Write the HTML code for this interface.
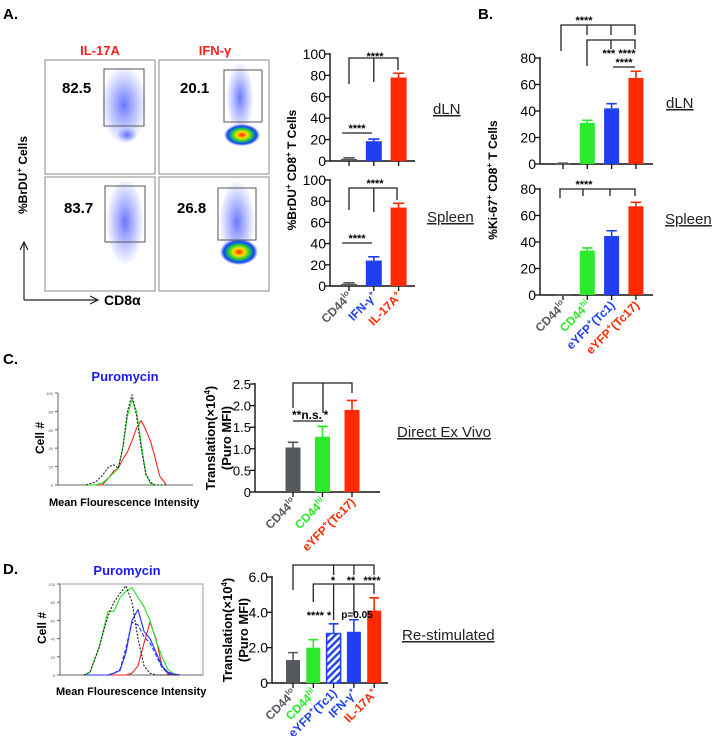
<!DOCTYPE html>
<html><head><meta charset="utf-8"><style>
body{margin:0;background:#fff}
svg{display:block;font-family:"Liberation Sans",Arial,sans-serif}
.b{font-weight:bold}
</style></head><body>
<svg id="fig" width="713" height="736" viewBox="0 0 713 736" xmlns="http://www.w3.org/2000/svg">
<defs>
<pattern id="hatch" patternUnits="userSpaceOnUse" width="5" height="5" patternTransform="rotate(45)">
<rect width="5" height="5" fill="#fff"/><rect width="2.4" height="5" fill="#1f3ff0"/></pattern>
<radialGradient id="hot"><stop offset="0" stop-color="#ff2000"/><stop offset="0.3" stop-color="#ffe000"/><stop offset="0.55" stop-color="#20d040"/><stop offset="0.8" stop-color="#1040ff"/><stop offset="1" stop-color="#1040ff" stop-opacity="0"/></radialGradient>
<radialGradient id="cloud"><stop offset="0" stop-color="#2a3cff" stop-opacity="0.7"/><stop offset="1" stop-color="#4a5cff" stop-opacity="0.05"/></radialGradient>
</defs>
<text x="3" y="19" font-size="15" class="b">A.</text>
<text x="478" y="19" font-size="15" class="b">B.</text>
<text x="3" y="364" font-size="15" class="b">C.</text>
<text x="3" y="574" font-size="15" class="b">D.</text>

<g>
<text x="100" y="55" font-size="13" class="b" fill="#ff2020" text-anchor="middle">IL-17A</text>
<text x="215" y="55" font-size="13" class="b" fill="#ff2020" text-anchor="middle">IFN-γ</text>
<g>
<rect x="45" y="60" width="110" height="114" fill="#fff" stroke="#888"/>
<ellipse cx="124" cy="105" rx="22" ry="38" fill="url(#cloud)"/>
<ellipse cx="127" cy="135" rx="10" ry="7" fill="url(#cloud)"/>
<rect x="104" y="69" width="40" height="57" fill="none" stroke="#555"/>
<text x="62" y="93" font-size="15" class="b">82.5</text></g>
<g>
<rect x="159" y="60" width="110" height="114" fill="#fff" stroke="#888"/>
<ellipse cx="240" cy="98" rx="13" ry="34" fill="url(#cloud)"/>
<ellipse cx="242" cy="135" rx="18" ry="11" fill="url(#hot)"/>
<rect x="224" y="70" width="38" height="52" fill="none" stroke="#555"/>
<text x="180" y="93" font-size="15" class="b">20.1</text></g>
<g>
<rect x="45" y="177" width="110" height="114" fill="#fff" stroke="#888"/>
<ellipse cx="125" cy="222" rx="18" ry="42" fill="url(#cloud)"/>
<rect x="105" y="186" width="40" height="56" fill="none" stroke="#555"/>
<text x="64" y="213" font-size="15" class="b">83.7</text></g>
<g>
<rect x="159" y="177" width="110" height="114" fill="#fff" stroke="#888"/>
<ellipse cx="237" cy="222" rx="17" ry="40" fill="url(#cloud)"/>
<ellipse cx="239" cy="252" rx="19" ry="13" fill="url(#hot)"/>
<rect x="218" y="188" width="38" height="52" fill="none" stroke="#555"/>
<text x="177" y="213" font-size="15" class="b">26.8</text></g>
<text transform="translate(27,175) rotate(-90)" font-size="12" class="b" text-anchor="middle">%BrDU<tspan font-size="8" dy="-5">+</tspan><tspan dy="5"> Cells</tspan></text>
<path d="M24 300 V242 M20 250 L24 242 L28 250 M24 300 H98 M90 296 L98 300 L90 304" fill="none" stroke="#222" stroke-width="1.2"/>
<text x="104" y="305" font-size="14" class="b">CD8α</text>
</g>

<g id="charts"></g>

<text transform="translate(296,170) rotate(-90)" font-size="12" class="b" text-anchor="middle">%BrDU<tspan font-size="8" dy="-5">+</tspan><tspan dy="5"> CD8</tspan><tspan font-size="8" dy="-5">+</tspan><tspan dy="5"> T Cells</tspan></text>
<text transform="translate(497,180) rotate(-90)" font-size="12" class="b" text-anchor="middle">%Ki-67<tspan font-size="8" dy="-5">+</tspan><tspan dy="5"> CD8</tspan><tspan font-size="8" dy="-5">+</tspan><tspan dy="5"> T Cells</tspan></text>
<text transform="translate(215,438) rotate(-90)" font-size="13" class="b" text-anchor="middle">Translation(×10<tspan font-size="8" dy="-5">4</tspan><tspan dy="5">)</tspan></text>
<text transform="translate(231,438) rotate(-90)" font-size="13" class="b" text-anchor="middle">(Puro MFI)</text>
<text transform="translate(232,630) rotate(-90)" font-size="13" class="b" text-anchor="middle">Translation(×10<tspan font-size="8" dy="-5">4</tspan><tspan dy="5">)</tspan></text>
<text transform="translate(248,630) rotate(-90)" font-size="13" class="b" text-anchor="middle">(Puro MFI)</text>

<g font-size="15" text-decoration="underline" fill="#222">
<text x="433" y="114">dLN</text>
<text x="427" y="222">Spleen</text>
<text x="666" y="108">dLN</text>
<text x="665" y="224">Spleen</text>
<text x="397" y="437">Direct Ex Vivo</text>
<text x="402" y="640">Re-stimulated</text>
</g>

<text x="125" y="381" font-size="13" class="b" fill="#1a1aff" text-anchor="middle">Puromycin</text>
<text x="127" y="575" font-size="13" class="b" fill="#1a1aff" text-anchor="middle">Puromycin</text>
<text transform="translate(44,438) rotate(-90)" font-size="12" class="b" text-anchor="middle">Cell #</text>
<text transform="translate(46,628) rotate(-90)" font-size="12" class="b" text-anchor="middle">Cell #</text>
<text x="49" y="506" font-size="11" class="b">Mean Flourescence Intensity</text>
<text x="56" y="695" font-size="11" class="b">Mean Flourescence Intensity</text>
<g id="hists"></g>
</svg>
<script>
const NS="http://www.w3.org/2000/svg";
function mk(tag,attrs,parent){const e=document.createElementNS(NS,tag);for(const k in attrs)e.setAttribute(k,attrs[k]);parent.appendChild(e);return e;}
const charts=document.getElementById('charts');
const COL={g:"#55595f",gr:"#2bea2b",b:"#1f3ff0",r:"#ff2a00",h:"url(#hatch)"};

const catsA=["CD44lo","IFN-γ+","IL-17A+"];
const colorsA=["g","b","r"];
const dlnA=[2,18.5,78];
const dlnAErr=[1,2,4];
const spleenA=[2,24,74];
const spleenAErr=[1,3.5,4];
const ticksA=[0,20,40,60,80,100];

const catsB=["CD44lo","CD44hi","eYFP+(Tc1)","eYFP+(Tc17)"];
const colorsB=["g","gr","b","r"];
const dlnB=[0.3,31,42,65];
const dlnBErr=[0.3,2,3.5,5];
const spleenB=[0,33.5,44.5,67];
const spleenBErr=[0,2,4,3];
const ticksB=[0,20,40,60,80];

const catsC=["CD44lo","CD44hi","eYFP+(Tc17)"];
const colorsC=["g","gr","r"];
const valsC=[1.03,1.28,1.9];
const errC=[0.12,0.24,0.22];
const ticksC=[0,0.5,1.0,1.5,2.0,2.5];
const tickLabelsC=["0","0.5","1.0","1.5","2.0","2.5"];

const catsD=["CD44lo","CD44hi","eYFP+(Tc1)","IFN-γ+","IL-17A+"];
const colorsD=["g","gr","h","b","r"];
const valsD=[1.3,2.0,2.8,2.9,4.1];
const errD=[0.42,0.45,0.55,0.68,0.72];
const ticksD=[0,2,4,6];
const tickLabelsD=["0","2.0","4.0","6.0"];

function barChart(o){
  const g=mk('g',{},charts);
  
  
  const y=v=>o.y0-(v/o.max)*(o.y0-o.yTop);
  const x=i=>o.c0+i*o.step;
  const fs=o.fs||14;
  mk('line',{x1:o.ax,y1:o.yTop-1,x2:o.ax,y2:o.y0,stroke:"#111","stroke-width":1.4},g);
  mk('line',{x1:o.ax,y1:o.y0,x2:o.end,y2:o.y0,stroke:"#111","stroke-width":1.4},g);
  o.ticks.forEach((t,i)=>{
    mk('line',{x1:o.ax-5,y1:y(t),x2:o.ax,y2:y(t),stroke:"#111","stroke-width":1.3},g);
    const tx=mk('text',{x:o.ax-4,y:y(t)+5,"font-size":fs,"text-anchor":"end"},g);
    tx.textContent=o.tl?o.tl[i]:String(t);
  });
  o.vals.forEach((v,i)=>{
    const cx=x(i), c=COL[o.colors[i]], sc=o.colors[i]==="h"?COL.b:c;
    mk('line',{x1:cx,y1:o.y0,x2:cx,y2:o.y0+5,stroke:"#111","stroke-width":1.3},g);
    const top=y(v+o.err[i]);
    const eb=mk('path',{d:`M${cx} ${y(v)} V${top} M${cx-o.bw*0.35} ${top} H${cx+o.bw*0.35}`,stroke:sc,"stroke-width":1.6,fill:"none"},g);
    
    
    const r=mk('rect',{x:cx-o.bw/2,y:y(v),width:o.bw,height:Math.max(o.y0-y(v),0.8),fill:c,stroke:sc,"stroke-width":o.colors[i]==="h"?1.5:0},g);
    
    
    if(o.labels){
      const lab=o.cats[i];
      const t=mk('text',{transform:`translate(${cx+4},${o.y0+11}) rotate(-45)`,"text-anchor":"end","font-size":12,"font-weight":"bold",fill:sc},g);
      
      
      const m=lab.match(/^(.*?)(lo|hi|\+)(.*)$/);
      if(m){t.appendChild(document.createTextNode(m[1]));const s=mk('tspan',{"font-size":8,dy:-5},t);s.textContent=m[2];const r2=mk('tspan',{dy:5},t);r2.textContent=m[3]||"\u200b";}
      else t.textContent=lab;
    }
  });
  return {g,x,y};
}
function sig(g,d,labels){
  mk('path',{d,stroke:"#222","stroke-width":1.3,fill:"none"},g);
  labels.forEach(l=>{const t=mk('text',{x:l[0],y:l[1],"font-size":l[3]||11,"font-weight":"bold","text-anchor":"middle"},g);t.textContent=l[2];});
}

let c=barChart({name:"a-dln",vals:dlnA,err:dlnAErr,colors:colorsA,cats:catsA,ticks:ticksA,max:100,ax:330,y0:161,yTop:54,c0:349,step:24.8,bw:16,end:415});
sig(c.g,"M349 84 V58 H398 V70 M373.8 58 V82 M342 133 H372",[[375,60,"****"],[357,132,"****"]]);
c=barChart({name:"a-spleen",vals:spleenA,err:spleenAErr,colors:colorsA,cats:catsA,ticks:ticksA,max:100,ax:330,y0:286,yTop:180,c0:349,step:24.8,bw:16,end:415,labels:true});
sig(c.g,"M349 210 V188 H397 V200 M373.8 188 V212 M342 243 H372",[[375,187,"****"],[357,242,"****"]]);
c=barChart({name:"b-dln",vals:dlnB,err:dlnBErr,colors:colorsB,cats:catsB,ticks:ticksB,max:80,ax:540,y0:164,yTop:58,c0:563,step:24.3,bw:15,end:653});
sig(c.g,"M561 51 V25 H635 V35 M587 25 V35 M611 25 V35 M587 66 V40 H635 V49 M611 40 V49 M613 67 H635",[[584,24,"****"],[619,57,"***  ****"],[624,66,"****"]]);
c=barChart({name:"b-spleen",vals:spleenB,err:spleenBErr,colors:colorsB,cats:catsB,ticks:ticksB,max:80,ax:540,y0:295,yTop:189,c0:563,step:24.3,bw:15,end:653,labels:true});
sig(c.g,"M560 198 V189 H635 V196 M583 189 V196 M610 189 V196",[[584,188,"****"]]);
c=barChart({name:"c",vals:valsC,err:errC,colors:colorsC,cats:catsC,ticks:ticksC,tl:tickLabelsC,fs:13,max:2.5,ax:255,y0:492,yTop:384,c0:293,step:29.5,bw:15,end:380,labels:true});
sig(c.g,"M293 408 V383 H352 V393 M323 383 V413 M293 421 H323",[[307,419,"**n.s.",12],[326,419,"*",12]]);
c=barChart({name:"d",vals:valsD,err:errD,colors:colorsD,cats:catsD,ticks:ticksD,tl:tickLabelsD,max:6,ax:272,y0:683,yTop:577,c0:293,step:20.3,bw:14,end:388,labels:true});
sig(c.g,"M293 590 V565 H374 V575 M333.6 565 V575 M353.9 565 V575 M313.3 602 V584 H374 V594 M333.6 584 V620 M353.9 584 V615",[[333,584,"*"],[351,584,"**"],[372,584,"****"],[319,619,"**** *"],[357,618,"p=0.05",10]]);

const hists=document.getElementById('hists');
const histCLogs=[3.0,3.2,3.35,3.5,3.6,3.7,3.8,3.9,4.0,4.1,4.2,4.3,4.4,4.5,4.6,4.75];
const histCBlack=[0,3,10,20,22,18,40,80,98,75,40,12,3,0,0,0];
const histCGreen=[0,0,2,8,13,18,40,75,93,80,45,12,2,0,0,0];
const histCRed=[0,0,0,8,15,18,28,36,48,62,70,60,48,30,10,0];
const histDLogs=[3.4,3.5,3.65,3.8,3.9,4.0,4.1,4.2,4.3,4.4,4.5,4.6,4.7,4.8,4.9,5.0];
const histDBlack=[0,3,30,65,80,90,98,80,40,10,2,0,0,0,0,0];
const histDGreen=[0,3,30,70,70,85,92,96,85,75,60,38,20,6,1,0];
const histDBlue=[0,0,0,0,2,5,25,60,72,48,40,25,10,3,1,0];
const histDBlueDash=[0,0,0,0,2,6,30,58,55,42,35,22,8,2,0,0];
const histDRed=[0,0,0,0,0,0,0,2,10,35,58,40,10,1,0,0];

function hist(o){
  const g=mk('g',{},hists);
  
  
  if(o.frame) mk('rect',{x:o.x0,y:o.yTop,width:o.x1-o.x0,height:o.y0-o.yTop,fill:"none",stroke:"#999","stroke-width":1},g);
  mk('path',{d:`M${o.x0} ${o.yTop} V${o.y0} H${o.x1}`,stroke:"#666",fill:"none","stroke-width":1},g);
  const X=l=>o.px4+(l-4)*o.dec, Y=v=>o.y0-v/100*(o.y0-o.yTop);
  [0,20,40,60,80,100].forEach(t=>{mk('line',{x1:o.x0-3,y1:Y(t),x2:o.x0,y2:Y(t),stroke:"#666"},g);const tx=mk('text',{x:o.x0-5,y:Y(t)+2,"font-size":4,"text-anchor":"end",fill:"#555"},g);tx.textContent=t;});
  o.series.forEach(s=>{
    const p=mk('path',{d:s.v.map((v,i)=>(i?'L':'M')+X(o.logs[i]).toFixed(1)+' '+Y(v).toFixed(1)).join(' '),stroke:s.c,fill:"none","stroke-width":1.1,"stroke-dasharray":s.dash||"none","stroke-linejoin":"round"},g);
    
    
  });
}
hist({name:"histogram-c",x0:58,x1:193,y0:485,yTop:393,px4:132,dec:46,logs:histCLogs,series:[{v:histCRed,c:"#ff2020"},{v:histCGreen,c:"#20e020"},{v:histCBlack,c:"#222",dash:"2,1.5"}]});
hist({name:"histogram-d",x0:60,x1:203,y0:675,yTop:584,px4:120,dec:60,frame:true,logs:histDLogs,series:[{v:histDRed,c:"#ff2020"},{v:histDGreen,c:"#20e020"},{v:histDBlue,c:"#2030ff"},{v:histDBlueDash,c:"#2030ff",dash:"4,2"},{v:histDBlack,c:"#222",dash:"2,1.5"}]});
</script>
</body></html>
